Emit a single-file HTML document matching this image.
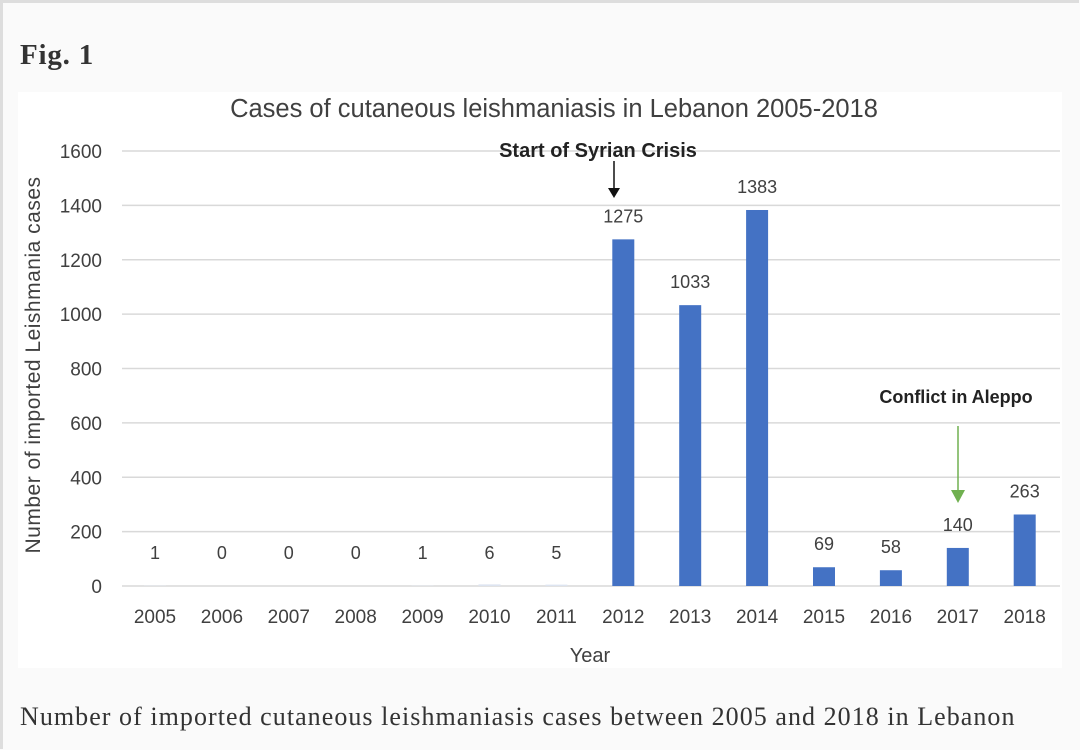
<!DOCTYPE html>
<html><head><meta charset="utf-8"><style>
body{margin:0;width:1080px;height:750px;background:#fafafa;overflow:hidden;font-family:"Liberation Sans",sans-serif}
#frame{position:absolute;left:0;top:0;width:1076px;height:746px;border-left:3px solid #ddd;border-top:3px solid #ddd}
#fig{position:absolute;left:20px;top:39px;font-family:"Liberation Serif",serif;font-weight:bold;font-size:29px;letter-spacing:0.8px;color:#333}
#cap{position:absolute;left:20px;top:702px;font-family:"Liberation Serif",serif;font-size:26px;letter-spacing:1.05px;color:#333;white-space:nowrap}
svg{position:absolute;left:0;top:0}
</style></head><body>
<div id="frame"></div>
<div id="fig">Fig. 1</div>
<svg id="chart" width="1080" height="750">
<rect x="18" y="92" width="1044" height="576" fill="#fff"/>
<text x="554" y="117" text-anchor="middle" font-size="25.5" fill="#404040">Cases of cutaneous leishmaniasis in Lebanon 2005-2018</text>
<text transform="translate(40,365) rotate(-90)" text-anchor="middle" font-size="21" letter-spacing="0.5" fill="#404040">Number of imported Leishmania cases</text>
<text x="590" y="662" text-anchor="middle" font-size="20" fill="#404040">Year</text>
<g id="grid"></g><g id="bars"></g>
<text x="598" y="157" text-anchor="middle" font-size="20" font-weight="bold" fill="#222">Start of Syrian Crisis</text>
<line x1="614" y1="161" x2="614" y2="190" stroke="#111" stroke-width="1.5"/>
<polygon points="608,188 620,188 614,198" fill="#111"/>
<text x="956" y="403" text-anchor="middle" font-size="18" font-weight="bold" fill="#222">Conflict in Aleppo</text>
<line x1="958" y1="426" x2="958" y2="492" stroke="#70b050" stroke-width="1.5"/>
<polygon points="951,490 965,490 958,503" fill="#70b050"/>
</svg>
<div id="cap">Number of imported cutaneous leishmaniasis cases between 2005 and 2018 in Lebanon</div>
<script>
const years=["2005","2006","2007","2008","2009","2010","2011","2012","2013","2014","2015","2016","2017","2018"];
const cases=[1,0,0,0,1,6,5,1275,1033,1383,69,58,140,263];
const yTicks=[0,200,400,600,800,1000,1200,1400,1600];
const NS="http://www.w3.org/2000/svg";
const y0=586,yTop=151,yMax=1600,x0=155,dx=66.9,bw=22;
const ys=v=>y0-(v/yMax)*(y0-yTop);
const xs=i=>x0+i*dx;
const grid=document.getElementById('grid'),bars=document.getElementById('bars');
function mk(tag,at,parent){const e=document.createElementNS(NS,tag);for(const k in at)e.setAttribute(k,at[k]);parent.appendChild(e);return e;}
yTicks.forEach(t=>{
 const l=mk('line',{x1:122,x2:1060,y1:ys(t),y2:ys(t),stroke:'#d9d9d9','stroke-width':1.5},grid);
 
 
 const tx=mk('text',{x:102,y:ys(t)+7,'text-anchor':'end','font-size':19,fill:'#404040'},grid);
 tx.textContent=t;
 
 
});
years.forEach((yr,i)=>{
 const v=cases[i];
 const r=mk('rect',{x:xs(i)-bw/2,y:ys(v),width:bw,height:y0-ys(v),fill:v>20?'#4472c4':'#dde4f0'},bars);
 
 
 const lb=mk('text',{x:xs(i),y:Math.min(ys(v),y0-10)-17,'text-anchor':'middle','font-size':18,fill:'#404040'},bars);
 lb.textContent=v;
 
 
 const xl=mk('text',{x:xs(i),y:623,'text-anchor':'middle','font-size':19,fill:'#404040'},bars);
 xl.textContent=yr;
 
 
});
</script>
</body></html>
